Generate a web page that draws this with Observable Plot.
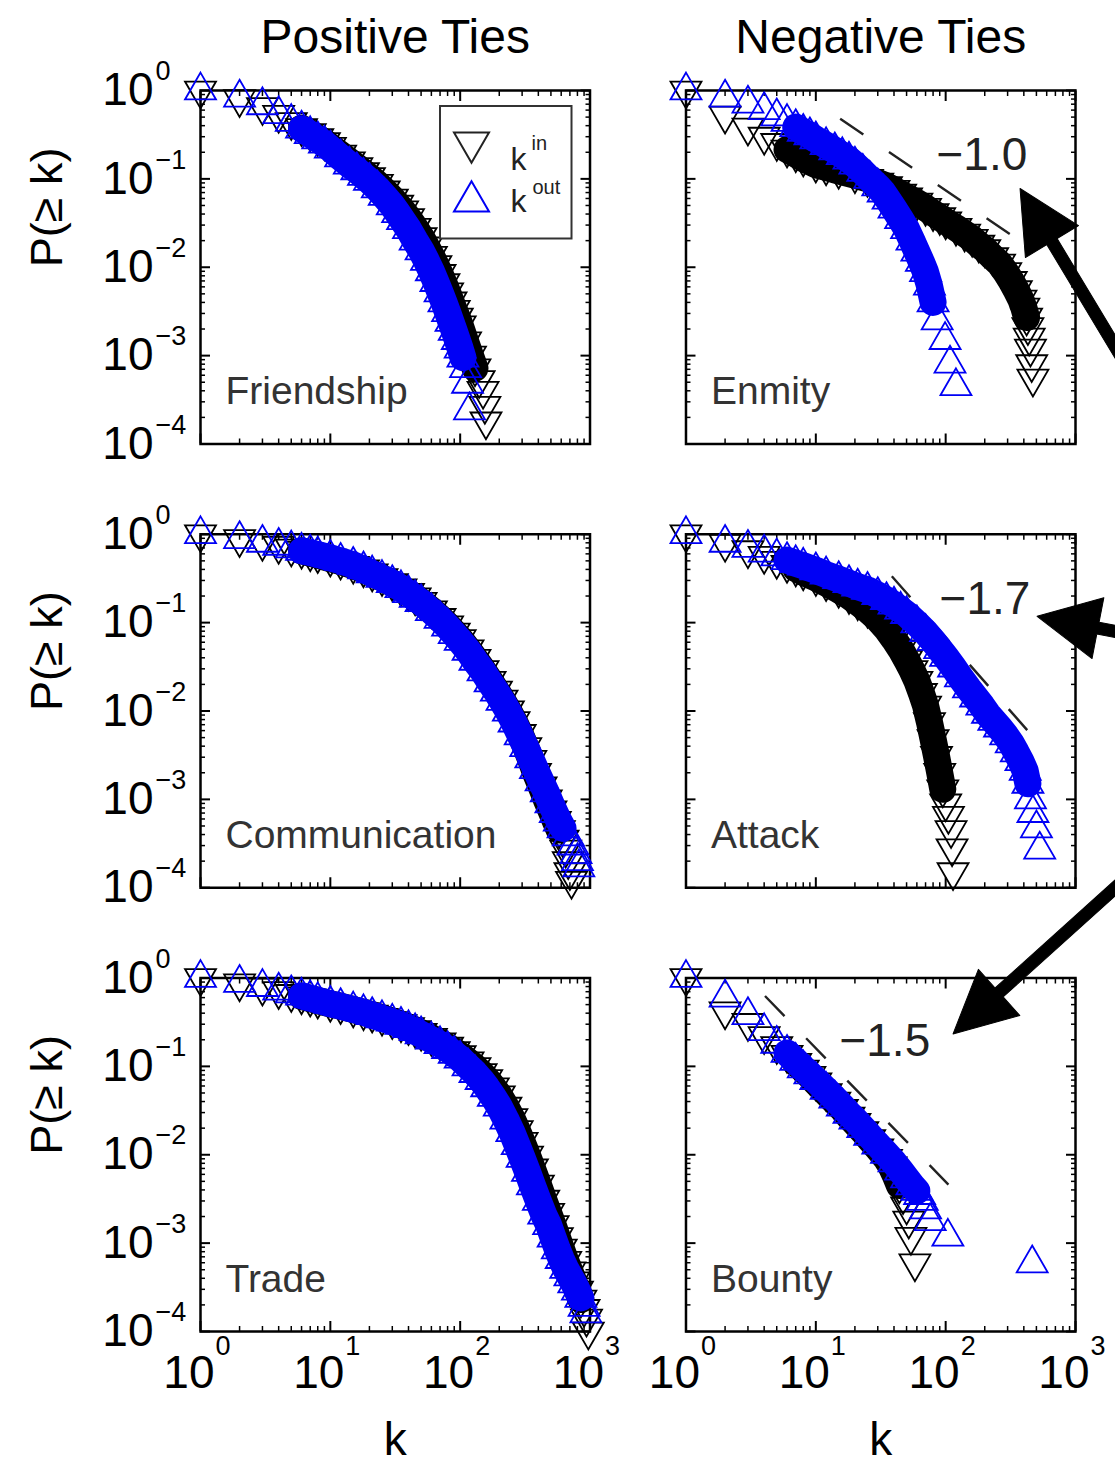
<!DOCTYPE html>
<html><head><meta charset="utf-8">
<script src="https://cdn.jsdelivr.net/npm/d3@7"></script>
<script src="https://cdn.jsdelivr.net/npm/@observablehq/plot@0.6"></script>
<style>html,body{margin:0;padding:0;background:#fff;}#chart{width:1115px;height:1466px;}</style>
</head><body><div id="chart"></div>
<script>
// ---------- data ----------
const columns = ["Positive Ties", "Negative Ties"];
const panels = [
  {name: "Friendship", col: 0, row: 0},
  {name: "Enmity", col: 1, row: 0},
  {name: "Communication", col: 0, row: 1},
  {name: "Attack", col: 1, row: 1},
  {name: "Trade", col: 0, row: 2},
  {name: "Bounty", col: 1, row: 2}
];
const xTicks = [1, 10, 100, 1000];
const xMinor = [2,3,4,5,6,7,8,9,20,30,40,50,60,70,80,90,200,300,400,500,600,700,800,900];
const yTicks = [1e-4, 1e-3, 1e-2, 1e-1, 1];
const yMinor = [2e-4,3e-4,4e-4,5e-4,6e-4,7e-4,8e-4,9e-4,2e-3,3e-3,4e-3,5e-3,6e-3,7e-3,8e-3,9e-3,
  2e-2,3e-2,4e-2,5e-2,6e-2,7e-2,8e-2,9e-2,0.2,0.3,0.4,0.5,0.6,0.7,0.8,0.9];

// [k, P(>=k)]
const friendshipIn = [[1,1],[2,0.80],[3,0.65],[4,0.53],[5,0.44],[6,0.375],[7,0.33],[8,0.29],[9,0.26],[10,0.23],[12,0.188],[14,0.158],[16,0.136],[18,0.119],[20,0.105],[23,0.088],[26,0.074],[30,0.060],[33,0.051],[36,0.044],[40,0.036],[45,0.028],[50,0.022],[55,0.0172],[60,0.0135],[65,0.0106],[70,0.0084],[75,0.0066],[80,0.0052],[85,0.0041],[90,0.0033],[95,0.0027],[100,0.0022],[110,0.00145],[120,0.00100],[130,0.00072],[140,0.00053],[150,0.00040],[155,0.00027],[158,0.00018]];
const friendshipOut = [[1,1],[2,0.83],[3,0.68],[4,0.54],[5,0.44],[6,0.37],[7,0.32],[8,0.28],[9,0.25],[10,0.22],[12,0.175],[14,0.145],[16,0.125],[18,0.108],[20,0.095],[23,0.078],[26,0.064],[30,0.050],[33,0.041],[36,0.034],[40,0.027],[45,0.020],[50,0.0155],[55,0.0118],[60,0.0090],[65,0.0068],[70,0.0052],[75,0.0040],[80,0.0031],[85,0.0024],[90,0.0019],[95,0.0015],[100,0.00120],[105,0.00095],[110,0.00072],[114,0.00048],[118,0.00024]];
const enmityIn = [[1,1],[2,0.52],[3,0.38],[4,0.30],[5,0.255],[6,0.215],[7,0.19],[8,0.17],[10,0.145],[12,0.135],[15,0.123],[20,0.110],[25,0.100],[30,0.091],[35,0.083],[40,0.075],[45,0.068],[50,0.062],[60,0.054],[70,0.047],[80,0.041],[90,0.037],[100,0.033],[120,0.028],[140,0.024],[160,0.021],[180,0.018],[200,0.016],[230,0.013],[260,0.0110],[290,0.0088],[320,0.0070],[350,0.0055],[380,0.0043],[400,0.0035],[420,0.0027],[430,0.0021],[440,0.0016],[450,0.0012],[460,0.0008],[470,0.00055]];
const enmityOut = [[1,1],[2,0.83],[3,0.71],[4,0.60],[5,0.51],[6,0.44],[7,0.385],[8,0.34],[9,0.31],[10,0.28],[12,0.24],[14,0.21],[16,0.185],[18,0.165],[20,0.145],[23,0.12],[26,0.10],[30,0.082],[33,0.070],[36,0.058],[40,0.046],[45,0.035],[50,0.027],[55,0.020],[60,0.0150],[65,0.0115],[70,0.0088],[75,0.0062],[80,0.0040],[86,0.0025],[99,0.0015],[108,0.00081],[120,0.00045]];
const communicationIn = [[1,1],[2,0.88],[3,0.80],[4,0.74],[5,0.69],[6,0.65],[7,0.61],[8,0.58],[10,0.53],[12,0.49],[15,0.44],[18,0.40],[21,0.36],[25,0.32],[30,0.28],[35,0.245],[40,0.217],[45,0.193],[50,0.172],[60,0.138],[70,0.113],[80,0.093],[90,0.077],[100,0.065],[115,0.050],[130,0.039],[150,0.029],[170,0.022],[190,0.017],[210,0.0135],[235,0.0102],[260,0.0077],[290,0.0055],[320,0.0039],[350,0.0028],[380,0.0020],[420,0.0014],[460,0.0010],[500,0.00075],[540,0.00057],[580,0.00045],[620,0.00035],[650,0.00027],[680,0.00020],[700,0.00015],[720,0.00012]];
const communicationOut = [[1,1],[2,0.88],[3,0.80],[4,0.74],[5,0.69],[6,0.65],[7,0.62],[8,0.59],[10,0.54],[12,0.50],[15,0.45],[18,0.40],[21,0.36],[25,0.32],[30,0.28],[35,0.245],[40,0.215],[45,0.19],[50,0.17],[60,0.135],[70,0.11],[80,0.09],[90,0.074],[100,0.062],[115,0.048],[130,0.037],[150,0.028],[170,0.021],[190,0.0165],[210,0.013],[235,0.0098],[260,0.0074],[290,0.0053],[320,0.0039],[350,0.0029],[380,0.0022],[420,0.0016],[460,0.0012],[500,0.00090],[540,0.00070],[580,0.00056],[620,0.00047],[680,0.00038],[740,0.00030],[780,0.00024],[800,0.00020],[820,0.00017]];
const attackIn = [[1,1],[2,0.78],[3,0.66],[4,0.57],[5,0.50],[6,0.45],[7,0.41],[8,0.37],[10,0.32],[12,0.28],[15,0.235],[18,0.20],[21,0.17],[25,0.14],[30,0.11],[35,0.085],[40,0.065],[45,0.050],[50,0.038],[55,0.029],[60,0.022],[65,0.016],[70,0.0115],[75,0.0075],[80,0.0048],[85,0.0031],[90,0.0020],[95,0.0013],[100,0.0009],[105,0.00065],[110,0.00045],[112,0.00028],[114,0.00015]];
const attackOut = [[1,1],[2,0.80],[3,0.70],[4,0.62],[5,0.56],[6,0.51],[7,0.47],[8,0.44],[10,0.39],[12,0.35],[15,0.31],[18,0.28],[21,0.255],[25,0.235],[30,0.205],[35,0.18],[40,0.16],[45,0.14],[50,0.125],[60,0.098],[70,0.078],[80,0.062],[90,0.050],[100,0.041],[115,0.031],[130,0.024],[150,0.018],[170,0.0142],[190,0.0115],[210,0.0093],[235,0.0077],[260,0.0065],[290,0.0053],[320,0.0043],[350,0.0034],[380,0.0027],[410,0.0021],[430,0.0015],[450,0.0010],[470,0.0007],[500,0.00047],[530,0.00027]];
const tradeIn = [[1,1],[2,0.87],[3,0.78],[4,0.71],[5,0.66],[6,0.62],[7,0.585],[8,0.555],[10,0.51],[12,0.48],[15,0.44],[18,0.41],[21,0.385],[25,0.355],[30,0.325],[35,0.30],[40,0.278],[45,0.258],[50,0.24],[60,0.21],[70,0.187],[80,0.167],[90,0.149],[100,0.134],[115,0.114],[130,0.098],[145,0.084],[160,0.072],[180,0.058],[200,0.047],[225,0.035],[250,0.026],[275,0.019],[300,0.014],[330,0.0098],[360,0.0070],[400,0.0046],[440,0.0031],[480,0.0022],[520,0.0016],[560,0.00117],[600,0.00087],[650,0.00063],[700,0.00048],[750,0.00037],[800,0.00029],[850,0.00023],[900,0.00018],[940,0.00014],[970,0.00010]];
const tradeOut = [[1,1],[2,0.88],[3,0.79],[4,0.72],[5,0.67],[6,0.63],[7,0.59],[8,0.56],[10,0.51],[12,0.48],[15,0.44],[18,0.41],[21,0.38],[25,0.35],[30,0.32],[35,0.295],[40,0.27],[45,0.25],[50,0.23],[60,0.20],[70,0.178],[80,0.157],[90,0.138],[100,0.122],[115,0.100],[130,0.084],[145,0.070],[160,0.058],[180,0.045],[200,0.035],[225,0.025],[250,0.018],[275,0.0128],[300,0.0092],[330,0.0064],[360,0.0045],[400,0.0030],[440,0.0021],[480,0.0016],[520,0.00115],[560,0.00085],[600,0.00066],[650,0.00051],[700,0.00042],[750,0.00035],[800,0.00029],[850,0.00024],[900,0.00019],[930,0.00016]];
const bountyIn = [[1,1],[2,0.42],[3,0.31],[4,0.22],[5,0.17],[6,0.135],[7,0.11],[8,0.092],[9,0.078],[10,0.066],[12,0.050],[14,0.040],[16,0.033],[18,0.027],[20,0.023],[23,0.0185],[26,0.015],[30,0.0118],[35,0.0090],[38,0.0074],[41,0.0058],[44,0.0045],[47,0.0034],[50,0.0026],[52,0.0018],[54,0.00118],[58,0.00059]];
const bountyOut = [[1,1],[2,0.60],[3,0.38],[4,0.25],[5,0.18],[6,0.142],[7,0.115],[8,0.095],[9,0.081],[10,0.070],[12,0.054],[14,0.043],[16,0.035],[18,0.029],[20,0.025],[23,0.020],[26,0.0163],[30,0.013],[35,0.0102],[40,0.0082],[45,0.0066],[50,0.0054],[55,0.0045],[60,0.0039],[63,0.0035],[66,0.0030],[70,0.0024],[76,0.00177],[104,0.00118],[464,0.00059]];

// k range over which the markers are packed into a solid band: [panel, dir, kFrom, kTo]
const denseRanges = [
  ["Friendship", "in", 6, 130], ["Friendship", "out", 6, 105],
  ["Enmity", "in", 6, 420], ["Enmity", "out", 7, 80],
  ["Communication", "in", 6, 580], ["Communication", "out", 6, 620],
  ["Attack", "in", 7, 95], ["Attack", "out", 6, 430],
  ["Trade", "in", 6, 850], ["Trade", "out", 6, 850],
  ["Bounty", "in", 7, 44], ["Bounty", "out", 6, 60]
];

// reference power-law guides
const guideLines = [
  {panel: "Enmity", k1: 15.4, p1: 0.479, k2: 324, p2: 0.0229},
  {panel: "Attack", k1: 38.5, p1: 0.335, k2: 432, p2: 0.0059},
  {panel: "Bounty", k1: 4.06, p1: 0.626, k2: 105, p2: 0.0046}
];
const slopeLabels = [
  {panel: "Enmity", k: 190, p: 0.184, label: "\u22121.0"},
  {panel: "Attack", k: 201, p: 0.184, label: "\u22121.7"},
  {panel: "Bounty", k: 34, p: 0.194, label: "\u22121.5"}
];
// arrow tips pointing at the slope labels, with direction (degrees)
const arrowTips = [
  {panel: "Enmity", k: 374, p: 0.0779, angle: -31},
  {panel: "Attack", k: 506, p: 0.118, angle: -79},
  {panel: "Bounty", k: 114, p: 0.233, angle: -132}
];

// ---------- build tables ----------
const pos = Object.fromEntries(panels.map(d => [d.name, d]));
const at = name => ({col: columns[pos[name].col], row: pos[name].row});
const seriesList = [
  ["Friendship", "in", friendshipIn], ["Friendship", "out", friendshipOut],
  ["Enmity", "in", enmityIn], ["Enmity", "out", enmityOut],
  ["Communication", "in", communicationIn], ["Communication", "out", communicationOut],
  ["Attack", "in", attackIn], ["Attack", "out", attackOut],
  ["Trade", "in", tradeIn], ["Trade", "out", tradeOut],
  ["Bounty", "in", bountyIn], ["Bounty", "out", bountyOut]
];
const points = seriesList.flatMap(([name, dir, arr]) => arr.map(([k, p]) => ({...at(name), panel: name, series: name + dir, dir, k, p})));
const inPts = points.filter(d => d.dir === "in");
const outPts = points.filter(d => d.dir === "out");
const inDense = denseRanges.filter(r => r[1] === "in").flatMap(([n, dir, a, b]) => inPts.filter(d => d.panel === n && d.k >= a && d.k <= b));
const outDense = denseRanges.filter(r => r[1] === "out").flatMap(([n, dir, a, b]) => outPts.filter(d => d.panel === n && d.k >= a && d.k <= b));
const panelRows = panels.map(d => ({...at(d.name), name: d.name}));
const guides = guideLines.map(d => ({...d, ...at(d.panel)}));
const slopes = slopeLabels.map(d => ({...d, ...at(d.panel)}));
const arrows = arrowTips.map(d => ({...d, ...at(d.panel)}));
const titleRows = columns.map(c => ({col: c, row: 0, label: c}));
const yLabelRows = [0, 1, 2].map(r => ({col: columns[0], row: r}));
const xLabelRows = columns.map(c => ({col: c, row: 2}));
const legendRow = [at("Friendship")];

const sup = d => { const e = Math.round(Math.log10(d)); return e < 0 ? "\u2212" + (-e) : String(e); };

const arrowShape = {
  draw(context, l) {
    const sw = 6, hw = 31, hl = 62;
    context.moveTo(-sw, 0);
    context.lineTo(-sw, -(l - hl));
    context.lineTo(-hw, -(l - hl));
    context.lineTo(0, -l);
    context.lineTo(hw, -(l - hl));
    context.lineTo(sw, -(l - hl));
    context.lineTo(sw, 0);
    context.closePath();
  }
};

const ticks = [];
for (const anchor of ["top", "bottom"]) {
  ticks.push(Plot.axisX({anchor, ticks: xTicks, tickSize: -10, strokeWidth: 2, fill: "none", label: null, facetAnchor: null}));
  ticks.push(Plot.axisX({anchor, ticks: xMinor, tickSize: -5, strokeWidth: 1.5, fill: "none", label: null, facetAnchor: null}));
}
for (const anchor of ["left", "right"]) {
  ticks.push(Plot.axisY({anchor, ticks: yTicks, tickSize: -10, strokeWidth: 2, fill: "none", label: null, facetAnchor: null}));
  ticks.push(Plot.axisY({anchor, ticks: yMinor, tickSize: -5, strokeWidth: 1.5, fill: "none", label: null, facetAnchor: null}));
}

const blue = "#0000f5";
const bandWidth = 27;
const chart = Plot.plot({
  width: 1115, height: 1466,
  marginTop: 90, marginRight: 40, marginBottom: 135, marginLeft: 200,
  style: {fontFamily: "'Liberation Sans', Arial, Helvetica, sans-serif", background: "#fff", color: "#000"},
  fx: {domain: columns, paddingInner: 0.1977, paddingOuter: 0, round: false, axis: null},
  fy: {domain: [0, 1, 2], paddingInner: 0.2034, paddingOuter: 0, round: false, axis: null},
  x: {type: "log", domain: [1, 1000]},
  y: {type: "log", domain: [1e-4, 1]},
  marks: [
    ...ticks,
    Plot.frame({stroke: "#000", strokeWidth: 2.5}),
    Plot.axisY({anchor: "left", ticks: yTicks, tickSize: 0, tickPadding: 47, tickFormat: () => "10", fontSize: 46, label: null}),
    Plot.axisY({anchor: "left", ticks: yTicks, tickSize: 0, tickPadding: 45, textAnchor: "start", dy: -19, tickFormat: sup, fontSize: 27, label: null}),
    Plot.axisX({anchor: "bottom", ticks: xTicks, tickSize: 0, tickPadding: 24, tickFormat: () => "10", textAnchor: "end", dx: 14, fontSize: 46, label: null}),
    Plot.axisX({anchor: "bottom", ticks: xTicks, tickSize: 0, tickPadding: 4, tickFormat: sup, textAnchor: "start", dx: 15, fontSize: 27, label: null}),
    Plot.link(guides, {x1: "k1", y1: "p1", x2: "k2", y2: "p2", fx: "col", fy: "row", stroke: "#222", strokeWidth: 2.4, strokeDasharray: "28,31"}),
    // k_in (black, down triangles)
    Plot.line(inDense, {x: "k", y: "p", z: "series", fx: "col", fy: "row", stroke: "#000", strokeWidth: bandWidth, strokeLinejoin: "round", strokeLinecap: "round"}),
    Plot.dot(inPts, {x: "k", y: "p", fx: "col", fy: "row", symbol: "triangle", rotate: 180, r: 11.5, stroke: "#000", strokeWidth: 1.8, fill: "none"}),
    // k_out (blue, up triangles)
    Plot.line(outDense, {x: "k", y: "p", z: "series", fx: "col", fy: "row", stroke: blue, strokeWidth: bandWidth, strokeLinejoin: "round", strokeLinecap: "round"}),
    Plot.dot(outPts, {x: "k", y: "p", fx: "col", fy: "row", symbol: "triangle", r: 11.5, stroke: blue, strokeWidth: 1.8, fill: "none"}),
    Plot.text(panelRows, {fx: "col", fy: "row", text: "name", frameAnchor: "bottom-left", lineAnchor: "middle", textAnchor: "start", dx: 25, dy: -52, fontSize: 39, fill: "#333"}),
    Plot.text(slopes, {x: "k", y: "p", fx: "col", fy: "row", text: "label", fontSize: 46, fill: "#222"}),
    Plot.vector(arrows, {x: "k", y: "p", fx: "col", fy: "row", rotate: "angle", length: 260, anchor: "end", shape: arrowShape, fill: "#000", stroke: "#000", strokeWidth: 1}),
    // legend
    Plot.rect(legendRow, {fx: "col", fy: "row", insetLeft: 240, insetRight: 18, insetTop: 16, insetBottom: 205, fill: "#fff", stroke: "#333", strokeWidth: 2}),
    Plot.dot(legendRow, {fx: "col", fy: "row", frameAnchor: "top-left", dx: 271, dy: 52, symbol: "triangle", rotate: 180, r: 13, stroke: "#222", strokeWidth: 2, fill: "none"}),
    Plot.dot(legendRow, {fx: "col", fy: "row", frameAnchor: "top-left", dx: 271, dy: 111, symbol: "triangle", r: 13, stroke: blue, strokeWidth: 2, fill: "none"}),
    Plot.text(legendRow, {fx: "col", fy: "row", frameAnchor: "top-left", lineAnchor: "middle", text: () => "k", textAnchor: "start", dx: 310, dy: 69, fontSize: 32, fill: "#222"}),
    Plot.text(legendRow, {fx: "col", fy: "row", frameAnchor: "top-left", lineAnchor: "middle", text: () => "in", textAnchor: "start", dx: 331, dy: 53, fontSize: 20, fill: "#222"}),
    Plot.text(legendRow, {fx: "col", fy: "row", frameAnchor: "top-left", lineAnchor: "middle", text: () => "k", textAnchor: "start", dx: 310, dy: 111, fontSize: 32, fill: "#222"}),
    Plot.text(legendRow, {fx: "col", fy: "row", frameAnchor: "top-left", lineAnchor: "middle", text: () => "out", textAnchor: "start", dx: 332, dy: 97, fontSize: 20, fill: "#222"}),
    // titles and axis labels
    Plot.text(titleRows, {fx: "col", fy: "row", text: "label", frameAnchor: "top", lineAnchor: "middle", dy: -53, fontSize: 48}),
    Plot.text(yLabelRows, {fx: "col", fy: "row", text: () => "P(\u2265 k)", frameAnchor: "left", lineAnchor: "middle", rotate: -90, dx: -153, fontSize: 45}),
    Plot.text(xLabelRows, {fx: "col", fy: "row", text: () => "k", frameAnchor: "bottom", lineAnchor: "middle", dy: 109, fontSize: 46})
  ]
});
document.getElementById("chart").appendChild(chart);
</script></body></html>
